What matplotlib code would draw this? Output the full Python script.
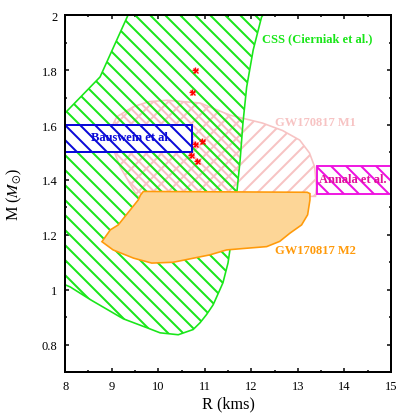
import matplotlib
matplotlib.use("Agg")
import matplotlib.pyplot as plt
from matplotlib.patches import Polygon, Rectangle
from matplotlib.ticker import MultipleLocator

plt.rcParams['font.family'] = ['Liberation Serif', 'DejaVu Serif']
plt.rcParams['mathtext.fontset'] = 'stix'
plt.rcParams['hatch.linewidth'] = 1.6

# ---- data (R in km, M in solar masses) ----
css_R = [9.35, 8.75, 8.0, 7.9, 7.9, 8.0, 8.11, 8.54, 9.25, 9.75, 10.04, 10.43, 10.75, 10.9,
         11.04, 11.18, 11.39, 11.5, 11.54, 11.62, 11.69, 11.76, 11.82, 11.9, 12.04, 12.22, 12.25]
css_M = [2.0, 1.775, 1.644, 1.60, 1.03, 1.018, 1.01, 0.964, 0.894, 0.862, 0.843, 0.836, 0.855, 0.88,
         0.91, 0.945, 1.025, 1.098, 1.145, 1.25, 1.356, 1.473, 1.607, 1.738, 1.873, 1.993, 2.0]

m1_R = [9.55, 9.43, 9.18, 9.04, 8.97, 9.11, 9.47, 9.8, 10.19, 10.9, 11.54, 12.24, 12.67,
        13.04, 13.25, 13.36, 13.4, 13.38]
m1_M = [1.34, 1.375, 1.448, 1.509, 1.582, 1.63, 1.667, 1.685, 1.69, 1.68, 1.636, 1.607, 1.58,
        1.545, 1.498, 1.448, 1.375, 1.34]

m2_R = [9.57, 9.62, 9.68, 13.2, 13.26, 13.26, 13.21, 13.08, 12.83, 12.61, 12.33, 11.82, 11.47,
        11.11, 10.32, 9.86, 9.47, 9.03, 8.79, 8.97, 9.14]
m2_M = [1.327, 1.345, 1.358, 1.355, 1.35, 1.327, 1.273, 1.236, 1.206, 1.176, 1.157, 1.15, 1.145,
        1.127, 1.10, 1.097, 1.115, 1.145, 1.175, 1.218, 1.236]

bauswein_R = [7.9, 10.72]
bauswein_M = [1.5, 1.6]
annala_R = [13.42, 15.2]
annala_M = [1.35, 1.45]

star_R = [10.79, 10.73, 10.95, 10.80, 10.70, 10.83]
star_M = [1.80, 1.72, 1.54, 1.53, 1.49, 1.47]

green = '#19e619'
pink = '#f7c3c3'
orange = '#ff9a0a'
orange_fill = '#fdd697'
blue = '#0a0ad8'
magenta = '#ee10e0'

fig = plt.figure(figsize=(415/90, 415/90), dpi=90)
ax = fig.add_axes([0.157, 0.101, 0.785, 0.860])
ax.set_xlim(8, 15)
ax.set_ylim(0.7, 2.0)

css_xy = list(zip(css_R, css_M))
m1_xy = list(zip(m1_R, m1_M))
m2_xy = list(zip(m2_R, m2_M))

# GW170817 M1 (pink, '/')
p_m1 = Polygon(m1_xy, closed=True, facecolor='none', edgecolor=pink, lw=1.3, hatch='//', zorder=1)
ax.add_patch(p_m1)

# green CSS region
p_css = Polygon(css_xy, closed=True, facecolor='none', edgecolor=green, lw=1.3,
                hatch='\\\\', zorder=3)
# pink back-hatch inside the overlap with the CSS region
p_m1b = Polygon(m1_xy, closed=True, facecolor='none', edgecolor=pink, lw=0,
                hatch='\\\\\\\\', zorder=2)
ax.add_patch(p_m1b)
ax.add_patch(p_css)
p_m1b.set_clip_path(p_css)

# Bauswein rectangle
ax.add_patch(Rectangle((bauswein_R[0], bauswein_M[0]), bauswein_R[1] - bauswein_R[0],
                       bauswein_M[1] - bauswein_M[0], facecolor='white', edgecolor=blue,
                       lw=1.6, hatch='\\\\', zorder=4))

# GW170817 M2 (orange filled)
ax.add_patch(Polygon(m2_xy, closed=True, facecolor=orange_fill, edgecolor=orange, lw=1.3, zorder=5))

# Annala rectangle
ax.add_patch(Rectangle((annala_R[0], annala_M[0]), annala_R[1] - annala_R[0],
                       annala_M[1] - annala_M[0], facecolor='white', edgecolor=magenta,
                       lw=1.5, hatch='\\\\', zorder=5))

# red stars
ax.plot(star_R, star_M, linestyle='none', marker='x', ms=4.0, mew=1.1, color='red', zorder=7)
ax.plot(star_R, star_M, linestyle='none', marker='+', ms=5.0, mew=1.1, color='red', zorder=7)

fs = 10
ax.text(12.23, 1.916, 'CSS (Cierniak et al.)', color=green, fontsize=fs, fontweight='bold',
        ha='left', va='center', zorder=8)
ax.text(12.5, 1.611, 'GW170817 M1', color=pink, fontsize=fs, fontweight='bold',
        ha='left', va='center', zorder=8)
ax.text(12.5, 1.145, 'GW170817 M2', color=orange, fontsize=fs, fontweight='bold',
        ha='left', va='center', zorder=8)
ax.text(9.42, 1.556, 'Bauswein et al.', color=blue, fontsize=fs, fontweight='bold',
        ha='center', va='center', zorder=8)
ax.text(13.45, 1.402, 'Annala et al.', color='#e0109a', fontsize=fs, fontweight='bold',
        ha='left', va='center', zorder=8, clip_on=True)

ax.set_xlabel('R (kms)', fontsize=13, labelpad=3)
ax.set_ylabel(r'M ($M_{\odot}$)', fontsize=13, labelpad=14)

ax.xaxis.set_major_locator(MultipleLocator(1))
ax.xaxis.set_minor_locator(MultipleLocator(0.5))
ax.yaxis.set_minor_locator(MultipleLocator(0.1))
ax.set_yticks([0.8, 1.0, 1.2, 1.4, 1.6, 1.8, 2.0])
ax.set_yticklabels(['0.8', '1', '1.2', '1.4', '1.6', '1.8', '2'])
ax.tick_params(which='both', direction='in', top=True, right=True, width=1.2, labelsize=10)
ax.tick_params(which='major', length=3.5, pad=6)
ax.tick_params(which='minor', length=1.8)
for s in ax.spines.values():
    s.set_linewidth(1.6)
    s.set_zorder(10)

fig.savefig('out.png', dpi=90)
